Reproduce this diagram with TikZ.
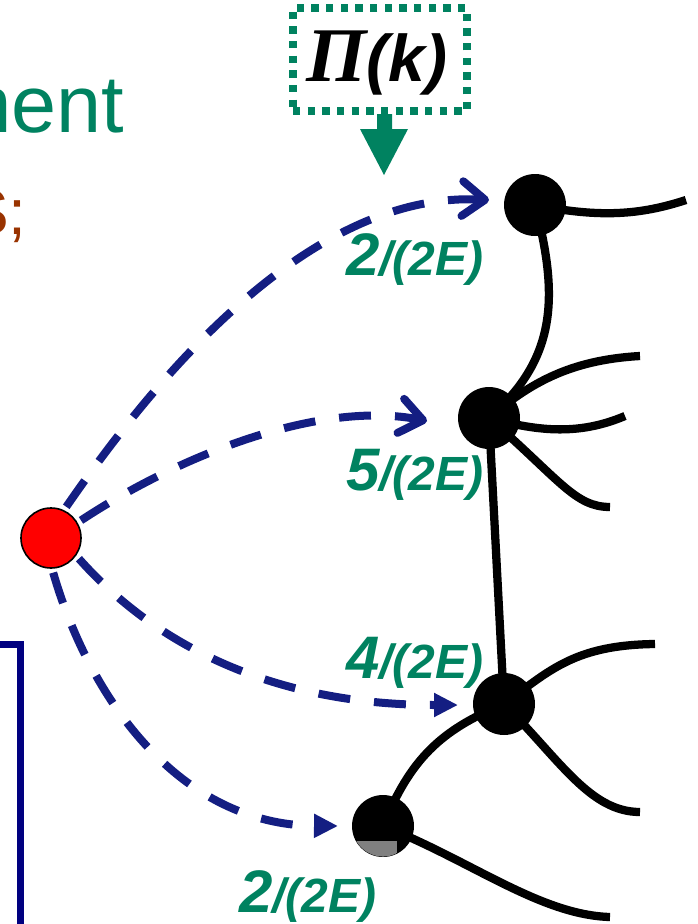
\documentclass[tikz,border=0pt]{standalone}
\usepackage{fontspec}
\setmainfont{Liberation Sans}
\newfontfamily\pifont{Liberation Serif}
\usetikzlibrary{arrows.meta}
\pgfdeclarelayer{bg}
\pgfsetlayers{bg,main}
\definecolor{tgreen}{RGB}{0,130,96}
\definecolor{tbrown}{RGB}{153,51,0}
\definecolor{dnavy}{RGB}{20,30,130}
\definecolor{rnavy}{RGB}{0,0,128}
\begin{document}
\begin{tikzpicture}[x=0.75pt,y=-0.75pt,
  vtx/.style={circle,fill=black,minimum size=46.5pt,inner sep=0pt},
  redvtx/.style={circle,fill=red,draw=black,line width=1.2pt,minimum size=45pt,inner sep=0pt},
  edge/.style={line width=6.2pt},
  walk/.style={dnavy,line width=6pt,dash pattern=on 24pt off 18pt,shorten <=3pt},
  barb/.style={-{Straight Barb[length=17pt,width=26pt,line cap=round,line join=round]}},
  tri/.style={-{Triangle[length=18pt,width=17pt]}},
  lab/.style={text=tgreen,inner sep=0pt,anchor=base west,font=\bfseries\itshape}
]
\useasboundingbox (0,0) rectangle (697,924);
\clip (0,0) rectangle (697,924);

% left texts (cut off, as in the reference)
\node[anchor=base east,inner sep=0pt,text=tgreen,font=\fontsize{60.75}{60.75}\selectfont] (ment) at (124.6,132) {ment};
\node[anchor=base east,inner sep=0pt,text=tbrown,font=\fontsize{48}{48}\selectfont] (semi) at (27,234) {S;};

% blue frame corner
\draw[rnavy,line width=5.5pt] (-10,644.5) -- (20.5,644.5) -- (20.5,940);

% Pi(k) box
\node[draw=tgreen,line width=5.5pt,dash pattern=on 5.5pt off 5.5pt,minimum width=130.5pt,minimum height=77.25pt,inner sep=0pt] (pk) at (380,59.5) {};
\node[anchor=base,inner sep=0pt] (pktext) at (377,82)
  {{\pifont\bfseries\itshape\fontsize{58}{58}\selectfont Π}{\bfseries\itshape\fontsize{49.5}{49.5}\selectfont (k)}};
\fill[tgreen] (377,114) -- (392,114) -- (392,129) -- (408,129) -- (384,175) -- (360,129) -- (377,129) -- cycle;

% vertices
\node[vtx] (A) at (535,205) {};
\node[vtx] (B) at (489,418) {};
\node[vtx] (C) at (504,704) {};
\node[vtx] (D) at (383,826) {};
\begin{scope}
  \clip (D.center) circle [radius=22.9pt];
  \fill[gray] (300,841) rectangle (397,870);
\end{scope}
\node[redvtx] (R) at (51,538) {};

% free ends
\coordinate (a1) at (686,200);
\coordinate (b1) at (640,356);
\coordinate (b2) at (625,416);
\coordinate (b3) at (610,507);
\coordinate (c1) at (655,644);
\coordinate (c2) at (640,812);
\coordinate (d1) at (610,917);
\coordinate (tA) at (489,200);
\coordinate (tB) at (427,421);
\coordinate (tC) at (458,705);
\coordinate (tD) at (338,826);

% graph edges
\begin{pgfonlayer}{bg}
\draw[edge] (A.center) .. controls (560,300) and (555,360) .. (B.center);
\draw[edge] (A.center) .. controls (600,218) and (640,215) .. (a1);
\draw[edge] (B.center) .. controls (530,383) and (570,360) .. (b1);
\draw[edge] (B.center) .. controls (540,432) and (580,435) .. (b2);
\draw[edge] (B.center) .. controls (560,480) and (575,507) .. (b3);
\draw[edge] (B.center) -- (C.center);
\draw[edge] (C.center) .. controls (550,670) and (575,645) .. (c1);
\draw[edge] (C.center) .. controls (560,760) and (590,812) .. (c2);
\draw[edge] (C.center) .. controls (440,730) and (410,760) .. (D.center);
\draw[edge] (D.center) .. controls (470,860) and (540,915) .. (d1);
\end{pgfonlayer}

% random-walk arrows
\draw[walk,barb] (R.65) .. controls (140,400) and (300,190) .. (tA);
\draw[walk,barb] (R.30) .. controls (180,455) and (320,400) .. (tB);
\draw[walk,tri] (R.-35) .. controls (160,650) and (280,705) .. (tC);
\draw[walk,tri] (R.-88) .. controls (90,700) and (180,825) .. (tD);

% labels
\node[lab] (lA) at (346,275) {{\fontsize{45}{45}\selectfont 2}{\fontsize{36}{36}\selectfont /(2E)}};
\node[lab] (lB) at (346,490) {{\fontsize{45}{45}\selectfont 5}{\fontsize{36}{36}\selectfont /(2E)}};
\node[lab] (lC) at (346,678) {{\fontsize{45}{45}\selectfont 4}{\fontsize{36}{36}\selectfont /(2E)}};
\node[lab] (lD) at (239,912) {{\fontsize{45}{45}\selectfont 2}{\fontsize{36}{36}\selectfont /(2E)}};
\end{tikzpicture}
\end{document}
